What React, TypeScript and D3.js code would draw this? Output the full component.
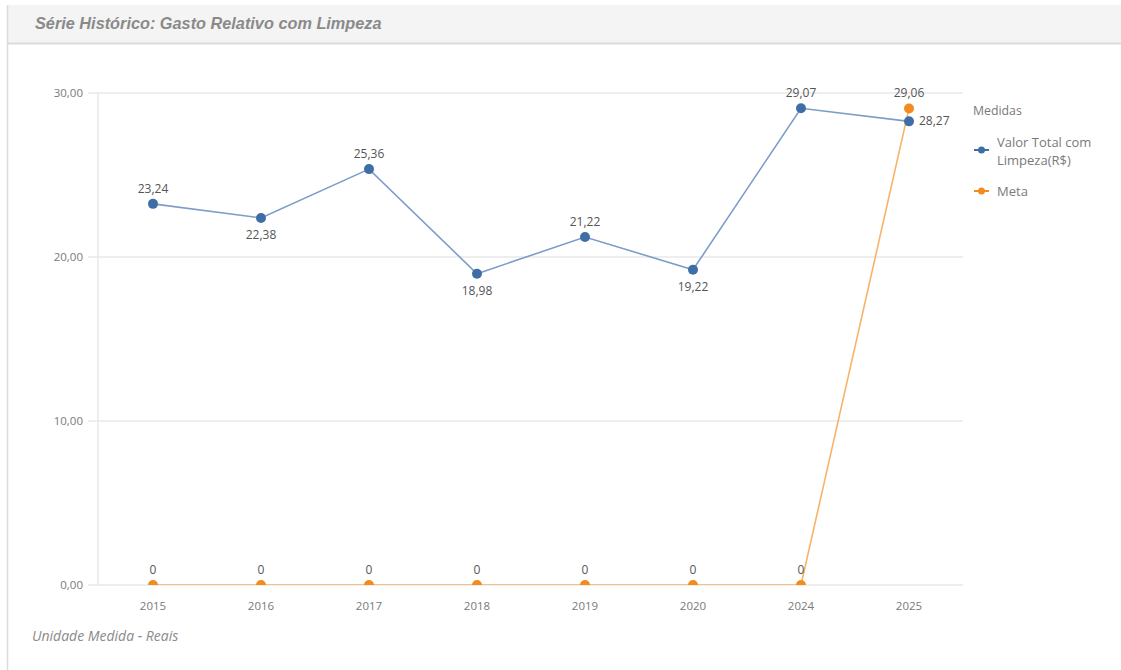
import React from "react";
import * as d3 from "d3";

const categories = ["2015", "2016", "2017", "2018", "2019", "2020", "2024", "2025"];
const valorTotal = [23.24, 22.38, 25.36, 18.98, 21.22, 19.22, 29.07, 28.27];
const meta = [0, 0, 0, 0, 0, 0, 0, 29.06];
const yTicks = [0, 10, 20, 30];
const valorLabelPos = ["above", "below", "above", "below", "above", "below", "above", "right"];
const title = "Série Histórico: Gasto Relativo com Limpeza";
const footer = "Unidade Medida - Reais";
const legendTitle = "Medidas";
const seriesNames = [["Valor Total com", "Limpeza(R$)"], ["Meta"]];

const W = 1121;
const H = 670;
const BLUE = "#3f6ea6";
const BLUE_LINE = "#7d9dc9";
const ORANGE = "#f28c1f";
const ORANGE_LINE = "#f8b36a";
const FONT = "'Open Sans', 'Noto Sans', sans-serif";

const fmt = (v: number) => (v === 0 ? "0" : v.toFixed(2).replace(".", ","));

export default function App() {
  const x = d3.scaleBand().domain(categories).range([99, 963]);
  const y = d3.scaleLinear().domain([0, 30]).range([585, 93]);
  const cx = (c: string) => (x(c) as number) + x.bandwidth() / 2;
  const line = d3
    .line<number>()
    .x((_, i) => cx(categories[i]))
    .y((d) => y(d));

  return (
    <svg width={W} height={H} style={{ position: "absolute", left: 0, top: 0, background: "#fff" }}>
      <defs>
        <clipPath id="plot">
          <rect x={97} y={60} width={880} height={y(0) - 60} />
        </clipPath>
      </defs>
      {/* panel */}
      <rect x={7} y={5} width={W - 7} height={38} fill="#f4f4f4" />
      <line x1={7} x2={W} y1={43.5} y2={43.5} stroke="#dcdcdc" strokeWidth={2} />
      <line x1={7.5} x2={7.5} y1={5} y2={H} stroke="#dcdcdc" strokeWidth={1.5} />
      <text x={35} y={29} fontFamily="Arial, 'Liberation Sans', sans-serif" fontSize={16.3} fontStyle="italic" fontWeight="bold" fill="#8a8a8a">
        {title}
      </text>

      {/* grid */}
      {yTicks.map((t) => (
        <g key={t}>
          <line x1={88} x2={963} y1={y(t)} y2={y(t)} stroke="#e8e8e8" strokeWidth={1.5} />
          <text x={83} y={y(t) + 4} textAnchor="end" fontFamily={FONT} fontSize={11.5} fill="#7a7a7a">
            {t.toFixed(2).replace(".", ",")}
          </text>
        </g>
      ))}
      <line x1={98} x2={98} y1={93} y2={585} stroke="#e8e8e8" strokeWidth={1.5} />

      {categories.map((c) => (
        <text key={c} x={cx(c)} y={610} textAnchor="middle" fontFamily={FONT} fontSize={11.5} fill="#7a7a7a">
          {c}
        </text>
      ))}

      {/* meta line */}
      <g clipPath="url(#plot)">
        <path d={line(meta) || ""} fill="none" stroke={ORANGE_LINE} strokeWidth={1.6} />
        {meta.map((v, i) => (
          <circle key={i} cx={cx(categories[i])} cy={y(v)} r={5} fill={ORANGE} />
        ))}
      </g>
      {/* valor line */}
      <path d={line(valorTotal) || ""} fill="none" stroke={BLUE_LINE} strokeWidth={1.6} />
      {valorTotal.map((v, i) => (
        <circle key={i} cx={cx(categories[i])} cy={y(v)} r={5} fill={BLUE} />
      ))}

      {/* labels */}
      {valorTotal.map((v, i) => {
        const pos = valorLabelPos[i];
        const px = cx(categories[i]);
        const py = y(v);
        const lx = pos === "right" ? px + 10 : px;
        const ly = pos === "above" ? py - 11 : pos === "below" ? py + 21 : py + 4;
        return (
          <text key={i} x={lx} y={ly} textAnchor={pos === "right" ? "start" : "middle"} fontFamily={FONT} fontSize={12} fill="#555">
            {fmt(v)}
          </text>
        );
      })}
      {meta.map((v, i) => (
        <text key={i} x={cx(categories[i])} y={y(v) - 11} textAnchor="middle" fontFamily={FONT} fontSize={12} fill="#555">
          {fmt(v)}
        </text>
      ))}

      {/* legend */}
      <text x={973} y={115} fontFamily={FONT} fontSize={12.3} fill="#7a7a7a">{legendTitle}</text>
      <line x1={974} x2={989} y1={150} y2={150} stroke={BLUE} strokeWidth={2} />
      <circle cx={981.5} cy={150} r={3.5} fill={BLUE} />
      <text fontFamily={FONT} fontSize={13} fill="#7a7a7a">
        <tspan x={997} y={147}>{seriesNames[0][0]}</tspan>
        <tspan x={997} y={165}>{seriesNames[0][1]}</tspan>
      </text>
      <line x1={974} x2={989} y1={191} y2={191} stroke={ORANGE} strokeWidth={2} />
      <circle cx={981.5} cy={191} r={3.5} fill={ORANGE} />
      <text x={997} y={196} fontFamily={FONT} fontSize={13} fill="#7a7a7a">{seriesNames[1][0]}</text>

      <text x={32} y={641} fontFamily={FONT} fontSize={14} fontStyle="italic" fill="#8a8a8a">{footer}</text>
    </svg>
  );
}
